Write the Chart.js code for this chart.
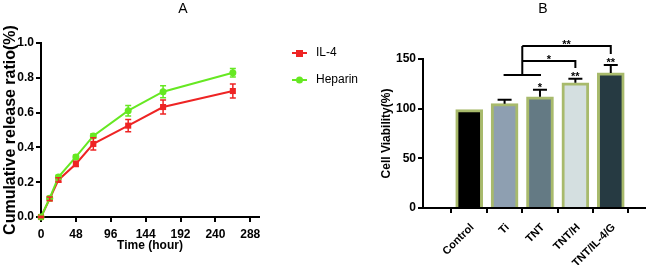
<!DOCTYPE html>
<html>
<head>
<meta charset="utf-8">
<script src="https://cdn.jsdelivr.net/npm/chart.js@4.4.1/dist/chart.umd.min.js"></script>
<style>
body { margin: 0; background: #fff; }
#wrap { position: relative; width: 661px; height: 265px; overflow: hidden; }
#chartA { position: absolute; left: 0; top: 0; }
#chartB { position: absolute; left: 330px; top: 0; }
</style>
</head>
<body>
<div id="wrap">
  <canvas id="chartA" width="380" height="265"></canvas>
  <canvas id="chartB" width="331" height="265"></canvas>
</div>
<script>
// panel A - release curves
var timeHours = [0, 12, 24, 48, 72, 120, 168, 264];
var il4Release = [0, 0.105, 0.213, 0.305, 0.42, 0.525, 0.632, 0.724];
var il4Error = [0.005, 0.01, 0.012, 0.015, 0.035, 0.035, 0.04, 0.04];
var heparinRelease = [0, 0.108, 0.23, 0.345, 0.466, 0.611, 0.72, 0.829];
var heparinError = [0.005, 0.01, 0.01, 0.012, 0.012, 0.03, 0.035, 0.025];
var timeTicks = [0, 48, 96, 144, 192, 240, 288];

// panel B - cell viability
var groups = ['Control', 'Ti', 'TNT', 'TNT/H', 'TNT/IL-4/G'];
var viability = [99, 105, 112, 126, 136];
var viabilityError = [0, 4, 7, 4, 8];
var groupStars = ['', '', '*', '**', '**'];
var viabilityTicks = [0, 50, 100, 150];
var bracketBase = { from: 1, to: 2, level: 134 };
var brackets = [
  { from: 1.5, to: 3, level: 148, drop: 141, label: '*' },
  { from: 1.5, to: 4, level: 163, drop: 155, label: '**' }
];

Chart.defaults.font.family = '"Liberation Sans", Arial, sans-serif';
Chart.defaults.color = '#000';

var FONT = '"Liberation Sans", Arial, sans-serif';

function toPoints(xs, ys) {
  return xs.map(function (x, i) { return { x: x, y: ys[i] }; });
}

var errorBars = {
  id: 'errorBars',
  afterDatasetsDraw: function (chart) {
    var ctx = chart.ctx, xs = chart.scales.x, ys = chart.scales.y;
    chart.data.datasets.forEach(function (ds) {
      if (!ds.errors) return;
      ctx.save();
      ctx.strokeStyle = ds.errorColor || ds.borderColor;
      ctx.lineWidth = ds.errorWidth || 1.5;
      ds.data.forEach(function (p, i) {
        var e = ds.errors[i];
        if (!e) return;
        var x = xs.getPixelForValue(p.x);
        var yTop = ys.getPixelForValue(p.y + e);
        var yBot = ds.upOnly ? ys.getPixelForValue(p.y) : ys.getPixelForValue(p.y - e);
        var c = ds.capHalf;
        ctx.beginPath();
        ctx.moveTo(x, yTop); ctx.lineTo(x, yBot);
        ctx.moveTo(x - c, yTop); ctx.lineTo(x + c, yTop);
        if (!ds.upOnly) { ctx.moveTo(x - c, yBot); ctx.lineTo(x + c, yBot); }
        ctx.stroke();
      });
      ctx.restore();
    });
  }
};

var panelLabel = {
  id: 'panelLabel',
  afterDraw: function (chart, args, opts) {
    var ctx = chart.ctx;
    ctx.save();
    ctx.font = '14px ' + FONT;
    ctx.fillStyle = '#000';
    ctx.textAlign = 'center';
    ctx.textBaseline = 'middle';
    ctx.fillText(opts.text, opts.x, opts.y);
    ctx.restore();
  }
};

// legend with line + marker, like the original
var lineLegend = {
  id: 'lineLegend',
  afterDraw: function (chart, args, opts) {
    var ctx = chart.ctx;
    var items = chart.data.datasets.slice().sort(function (a, b) { return a.legendIndex - b.legendIndex; });
    ctx.save();
    items.forEach(function (ds, i) {
      var y = opts.y + i * opts.gap;
      ctx.strokeStyle = ds.borderColor;
      ctx.lineWidth = 2;
      ctx.beginPath(); ctx.moveTo(opts.x, y); ctx.lineTo(opts.x + 15, y); ctx.stroke();
      ctx.fillStyle = ds.borderColor;
      if (ds.pointStyle === 'rect') {
        ctx.fillRect(opts.x + 4, y - 3, 7, 7);
      } else {
        ctx.beginPath(); ctx.arc(opts.x + 7.5, y, 3.5, 0, Math.PI * 2); ctx.fill();
      }
      ctx.fillStyle = '#000';
      ctx.font = '12px ' + FONT;
      ctx.textAlign = 'left';
      ctx.textBaseline = 'middle';
      ctx.fillText(ds.label, opts.x + 24, y);
    });
    ctx.restore();
  }
};

var axisBlack = {
  grid: { drawOnChartArea: false, drawTicks: true, color: '#000', lineWidth: 2, tickLength: 5 },
  border: { color: '#000', width: 2 }
};

new Chart(document.getElementById('chartA'), {
  type: 'line',
  data: {
    datasets: [
      {
        label: 'Heparin', legendIndex: 1, order: 0,
        data: toPoints(timeHours, heparinRelease), errors: heparinError, capHalf: 3,
        borderColor: '#66e822', backgroundColor: '#66e822', borderWidth: 2,
        pointStyle: 'circle', pointRadius: 3.5, pointBorderWidth: 0, clip: false
      },
      {
        label: 'IL-4', legendIndex: 0, order: 1,
        data: toPoints(timeHours, il4Release), errors: il4Error, capHalf: 3,
        borderColor: '#ee2424', backgroundColor: '#ee2424', borderWidth: 2,
        pointStyle: 'rect', pointRadius: 4.3, pointBorderWidth: 0, clip: false
      }
    ]
  },
  options: {
    responsive: false,
    animation: false,
    layout: { padding: { left: 1, top: 43, right: 121, bottom: 12 } },
    plugins: {
      legend: { display: false },
      tooltip: { enabled: false },
      panelLabel: { text: 'A', x: 183, y: 9 },
      lineLegend: { x: 292, y: 53, gap: 27 }
    },
    scales: {
      x: Object.assign({
        type: 'linear', min: 0, max: 300,
        afterBuildTicks: function (s) { s.ticks = timeTicks.map(function (v) { return { value: v }; }); },
        afterFit: function (s) { s.height = 36; },
        ticks: { font: { size: 12, weight: 'bold' }, padding: 5, maxRotation: 0 },
        title: { display: true, text: 'Time (hour)', font: { size: 12, weight: 'bold' }, padding: 0 }
      }, axisBlack),
      y: Object.assign({
        min: 0, max: 1,
        afterFit: function (s) { s.width = 40; },
        ticks: { stepSize: 0.2, font: { size: 12, weight: 'bold' }, padding: 2,
          callback: function (v) { return v.toFixed(1); } },
        title: { display: true, text: 'Cumulative release ratio(%)', font: { size: 16, weight: 'bold' }, padding: 0 }
      }, axisBlack)
    }
  },
  plugins: [errorBars, panelLabel, lineLegend]
});

var significance = {
  id: 'significance',
  afterDraw: function (chart) {
    var ctx = chart.ctx, xs = chart.scales.x, ys = chart.scales.y;
    var px = function (v) { return xs.getPixelForValue(v); };
    var py = function (v) { return ys.getPixelForValue(v); };
    ctx.save();
    ctx.strokeStyle = '#000';
    ctx.lineWidth = 2;
    ctx.beginPath();
    ctx.moveTo(px(bracketBase.from) - 1, py(bracketBase.level));
    ctx.lineTo(px(bracketBase.to) + 1, py(bracketBase.level));
    ctx.moveTo(px(brackets[0].from), py(bracketBase.level));
    ctx.lineTo(px(brackets[0].from), py(brackets[brackets.length - 1].level));
    brackets.forEach(function (b) {
      ctx.moveTo(px(b.from), py(b.level));
      ctx.lineTo(px(b.to), py(b.level));
      ctx.lineTo(px(b.to), py(b.drop));
    });
    ctx.stroke();
    ctx.fillStyle = '#000';
    ctx.font = 'bold 11px ' + FONT;
    ctx.textAlign = 'center';
    ctx.textBaseline = 'alphabetic';
    brackets.forEach(function (b) {
      ctx.fillText(b.label, (px(b.from) + px(b.to)) / 2, py(b.level) + 2);
    });
    groupStars.forEach(function (s, i) {
      if (!s) return;
      ctx.fillText(s, px(i), py(viability[i] + viabilityError[i]) + 1);
    });
    ctx.restore();
  }
};

new Chart(document.getElementById('chartB'), {
  type: 'bar',
  data: {
    datasets: [{
      data: toPoints(groups.map(function (g, i) { return i; }), viability),
      errors: viabilityError, upOnly: true, capHalf: 7, errorColor: '#000', errorWidth: 2,
      backgroundColor: ['#000000', '#8e9fb1', '#647a84', '#d4dfe0', '#263a42'],
      borderColor: '#a8ba6c', borderWidth: 3, barThickness: 27
    }]
  },
  options: {
    responsive: false,
    animation: false,
    layout: { padding: { left: 49, top: 59, right: 16, bottom: 0 } },
    plugins: {
      legend: { display: false },
      tooltip: { enabled: false },
      panelLabel: { text: 'B', x: 213, y: 9 }
    },
    scales: {
      x: Object.assign({
        type: 'linear', min: -0.678, max: 4.34,
        afterBuildTicks: function (s) { s.ticks = groups.map(function (g, i) { return { value: i }; }); },
        afterFit: function (s) { s.height = 57; },
        ticks: { font: { size: 11, weight: 'bold' }, padding: 8, labelOffset: 3,
          minRotation: 45, maxRotation: 45, autoSkip: false,
          callback: function (v) { return groups[v]; } }
      }, axisBlack),
      y: Object.assign({
        min: 0, max: 150,
        afterBuildTicks: function (s) { s.ticks = viabilityTicks.map(function (v) { return { value: v }; }); },
        afterFit: function (s) { s.width = 44; },
        ticks: { font: { size: 12, weight: 'bold' }, padding: 2 },
        title: { display: true, text: 'Cell Viability(%)', font: { size: 12, weight: 'bold' }, padding: 0 }
      }, axisBlack)
    }
  },
  plugins: [errorBars, panelLabel, significance]
});
</script>
</body>
</html>
